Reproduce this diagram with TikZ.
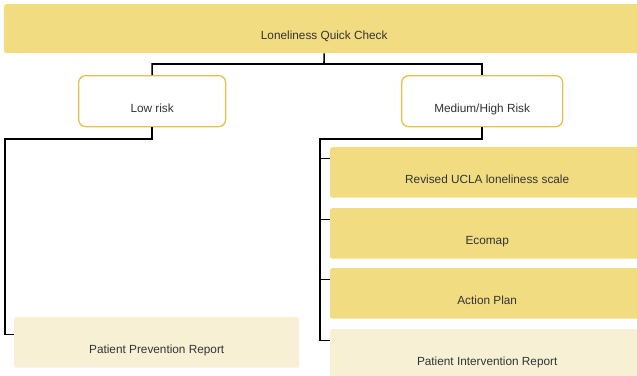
\documentclass[tikz,border=0pt]{standalone}
\usepackage{fontspec}
\setmainfont{Liberation Sans}
\usepackage{xcolor}
\usepackage{tikz}
\definecolor{gold}{HTML}{F1DC82}
\definecolor{cream}{HTML}{F7F0D5}
\definecolor{goldline}{HTML}{E5C247}
\definecolor{ink}{HTML}{333333}

\begin{document}
\begin{tikzpicture}[
        x=1pt, y=-1pt,
        box/.style={
            rectangle,
            rounded corners=2pt,
            draw=none,
            fill=gold,
            text=ink,
            align=center,
            font=\fontsize{11.8}{14}\selectfont,
            anchor=north west,
            inner sep=0pt,
            text height=35.8pt,
            text depth=14.7pt
        },
        report/.style={
            box,
            fill=cream
        },
        risk/.style={
            box,
            fill=white,
            draw=goldline,
            line width=1.3pt,
            rounded corners=7pt,
            text height=36.5pt,
            text depth=14.5pt
        },
        link/.style={
            draw=black,
            line width=1.6pt
        }
    ]
        \useasboundingbox (0,0) rectangle (637,375);

        % Top box
        \node[box, minimum width=640pt, text height=35.3pt, text depth=13.7pt] (check) at (4,4) {Loneliness Quick Check};

        % Risk levels
        \node[risk, minimum width=147pt] (low) at (78,75) {Low risk};
        \node[risk, minimum width=161pt] (high) at (401,75) {Medium/High Risk};

        % Low risk side
        \node[report, minimum width=285pt] (prev) at (14,317) {Patient Prevention Report};

        % Medium/High risk side
        \node[box, minimum width=314pt] (ucla) at (330,147) {Revised UCLA loneliness scale};
        \node[box, minimum width=314pt] (eco) at (330,208) {Ecomap};
        \node[box, minimum width=314pt] (plan) at (330,268) {Action Plan};
        \node[report, minimum width=314pt] (inter) at (330,329) {Patient Intervention Report};

        % Connectors
        \coordinate (split) at (324,64);
        \coordinate (lbus) at (5,139);
        \coordinate (rbus) at (320,139);
        \draw[link] (check.south) -- (split) -| (low.north);
        \draw[link] (split) -| (high.north);
        \draw[link] (low.south) |- (lbus) |- ([yshift=8pt]prev.west);
        \draw[link] (high.south) |- (rbus) |- ([yshift=14pt]inter.west);
        \draw[link] (rbus) |- ([yshift=14pt]ucla.west);
        \draw[link] (rbus) |- ([yshift=14pt]eco.west);
        \draw[link] (rbus) |- ([yshift=14pt]plan.west);
    \end{tikzpicture}
\end{document}
